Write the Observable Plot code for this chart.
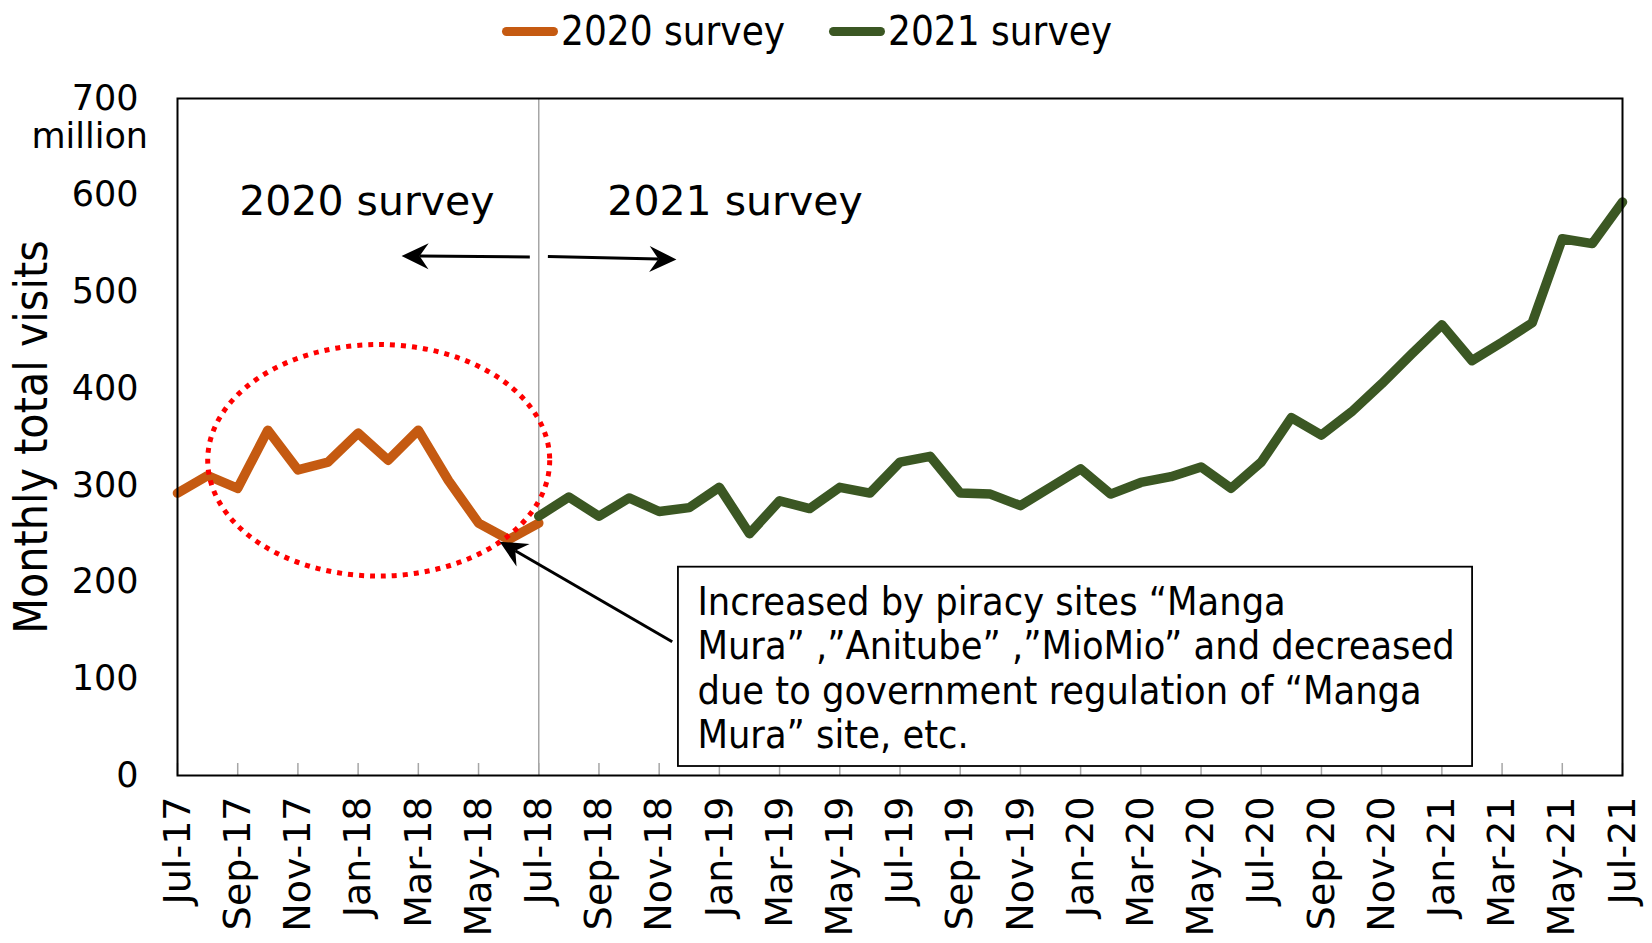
<!DOCTYPE html>
<html>
<head>
<meta charset="utf-8">
<script src="https://cdn.jsdelivr.net/npm/d3@7"></script>
<script src="https://cdn.jsdelivr.net/npm/@observablehq/plot@0.6"></script>
<style>
  html, body { margin: 0; padding: 0; background: #fff; }
  #legend { height: 62px; display: flex; align-items: center; padding-left: 502px;
            font-family: "DejaVu Sans Condensed", "DejaVu Sans", sans-serif; font-size: 40px; color: #000; }
  .sw { width: 56px; height: 9px; border-radius: 4.5px; margin-right: 3px; }
  .item { display: flex; align-items: center; }
</style>
</head>
<body>
<div id="legend"></div>
<div id="chart"></div>
<script>
// ---------- data ----------
const months = [
  "Jul-17","Aug-17","Sep-17","Oct-17","Nov-17","Dec-17","Jan-18","Feb-18","Mar-18","Apr-18","May-18","Jun-18",
  "Jul-18","Aug-18","Sep-18","Oct-18","Nov-18","Dec-18","Jan-19","Feb-19","Mar-19","Apr-19","May-19","Jun-19",
  "Jul-19","Aug-19","Sep-19","Oct-19","Nov-19","Dec-19","Jan-20","Feb-20","Mar-20","Apr-20","May-20","Jun-20",
  "Jul-20","Aug-20","Sep-20","Oct-20","Nov-20","Dec-20","Jan-21","Feb-21","Mar-21","Apr-21","May-21","Jun-21",
  "Jul-21"
];
const seriesNames = ["2020 survey", "2021 survey"];
const seriesColors = ["#C55A11", "#3B5723"];
// 2020 survey: Jul-17 .. Jul-18 (million visits)
const survey2020 = [292, 310, 297, 357, 316, 324, 354, 326, 357, 305, 261, 244, 261];
// 2021 survey: Jul-18 .. Jul-21
const survey2021 = [268, 288, 268, 287, 273, 277, 298, 250, 284, 276, 298, 292,
                    324, 330, 292, 291, 279, 298, 317, 291, 303, 309, 319, 297,
                    324, 370, 352, 376, 405, 436, 466, 429, 448, 468, 555, 550, 593];
const start2020 = 0, start2021 = 12;
const tickMonths = months.map((m, i) => i).filter(i => i % 2 === 0);
const yTicks = [0, 100, 200, 300, 400, 500, 600, 700];
const yUnit = "million";
const yTitle = "Monthly total visits";
const divider = [12];
const surveyLabels = [
  {x: 6.29, y: 580, text: "2020 survey"},
  {x: 18.52, y: 580, text: "2021 survey"}
];
const periodArrows = [
  {x1: 11.72, y1: 535.6, x2: 7.46, y2: 536.7},
  {x1: 12.32, y1: 536.1, x2: 16.59, y2: 533.0}
];
const calloutArrow = [{x1: 16.45, y1: 137.8, x2: 10.72, y2: 241.2}];
const calloutBox = [{x1: 16.64, x2: 43.02, y1: 9.3, y2: 215.4,
  text: "Increased by piracy sites \u201cManga\nMura\u201d ,\u201dAnitube\u201d ,\u201dMioMio\u201d and decreased\ndue to government regulation of \u201cManga\nMura\u201d site, etc."}];
const highlight = [{cx: 6.70, cy: 325.4, rx: 5.68, ry: 119.7}];

// ---------- table ----------
const rows = [
  ...survey2020.map((v, i) => ({i: start2020 + i, v, s: seriesNames[0]})),
  ...survey2021.map((v, i) => ({i: start2021 + i, v, s: seriesNames[1]}))
];

// ---------- legend ----------
const legend = document.getElementById("legend");
seriesNames.forEach((n, k) => {
  const it = document.createElement("div");
  it.className = "item";
  if (k > 0) it.style.marginLeft = "44px";
  it.innerHTML = `<div class="sw" style="background:${seriesColors[k]}"></div><span>${n}</span>`;
  legend.appendChild(it);
});

// ---------- custom renders ----------
function arrowRender(list) {
  return (index, scales) => {
    const g = d3.create("svg:g");
    const L = 27, W = 13, N = 18;
    for (const a of list) {
      const x1 = scales.x(a.x1), y1 = scales.y(a.y1), x2 = scales.x(a.x2), y2 = scales.y(a.y2);
      const ang = Math.atan2(y2 - y1, x2 - x1);
      const ux = Math.cos(ang), uy = Math.sin(ang), px = -uy, py = ux;
      const pt = (u, v) => [x2 + u * ux + v * px, y2 + u * uy + v * py];
      const notch = pt(-N, 0);
      g.append("line").attr("x1", x1).attr("y1", y1).attr("x2", notch[0]).attr("y2", notch[1])
        .attr("stroke", "#000").attr("stroke-width", 3);
      const poly = [pt(0, 0), pt(-L, -W), notch, pt(-L, W)];
      g.append("path").attr("d", "M" + poly.map(p => p.join(",")).join("L") + "Z").attr("fill", "#000");
    }
    return g.node();
  };
}
function ellipseRender(list) {
  return (index, scales) => {
    const g = d3.create("svg:g");
    for (const e of list) {
      const cx = scales.x(e.cx), cy = scales.y(e.cy);
      g.append("ellipse").attr("cx", cx).attr("cy", cy)
        .attr("rx", Math.abs(scales.x(e.cx + e.rx) - cx))
        .attr("ry", Math.abs(scales.y(e.cy + e.ry) - cy))
        .attr("fill", "none").attr("stroke", "#FF0000").attr("stroke-width", 5)
        .attr("stroke-dasharray", "5 6");
    }
    return g.node();
  };
}

// ---------- plot ----------
const chart = Plot.plot({
  width: 1652,
  height: 881,
  marginTop: 36,
  marginBottom: 168,
  marginLeft: 177,
  marginRight: 30,
  style: {fontFamily: "DejaVu Sans", color: "#000", background: "#fff"},
  x: {domain: [0, months.length - 1], label: null},
  y: {domain: [0, 700], label: null},
  color: {domain: seriesNames, range: seriesColors},
  marks: [
    Plot.ruleX(divider, {stroke: "#A6A6A6", strokeWidth: 1.5}),
    Plot.ruleX(tickMonths, {stroke: "#A6A6A6", strokeWidth: 1.5, insetTop: 665}),
    Plot.axisX({ticks: tickMonths, tickSize: 0, tickPadding: 21, tickRotate: -90,
                tickFormat: i => months[i], fontSize: 38, label: null}),
    Plot.axisY({ticks: yTicks, tickSize: 0, tickPadding: 39, fontSize: 35, label: null}),
    Plot.text([{x: 0, y: 700}], {x: "x", y: "y", text: () => yUnit, dx: -29.5, dy: 38,
               textAnchor: "end", fontSize: 35}),
    Plot.text([yTitle], {frameAnchor: "left", text: d => d, rotate: -90, dx: -145,
               textAnchor: "middle", lineAnchor: "middle",
               fontSize: 46, fontFamily: "DejaVu Sans Condensed"}),
    Plot.line(rows, {x: "i", y: "v", z: "s", stroke: "s", strokeWidth: 9.5,
              strokeLinejoin: "round", strokeLinecap: "round"}),
    ellipseRender(highlight),
    Plot.frame({stroke: "#000", strokeWidth: 2}),
    Plot.text(surveyLabels, {x: "x", y: "y", text: "text", fontSize: 41, lineAnchor: "bottom"}),
    arrowRender(periodArrows),
    arrowRender(calloutArrow),
    Plot.rect(calloutBox, {x1: "x1", x2: "x2", y1: "y1", y2: "y2", fill: "#fff", stroke: "#000", strokeWidth: 1.8}),
    Plot.text(calloutBox, {x: "x1", y: "y2", text: "text", textAnchor: "start", lineAnchor: "top",
              dx: 19, dy: 16, fontSize: 39.3, lineHeight: 1.13, fontFamily: "DejaVu Sans Condensed"})
  ]
});
document.getElementById("chart").appendChild(chart);
</script>
</body>
</html>
